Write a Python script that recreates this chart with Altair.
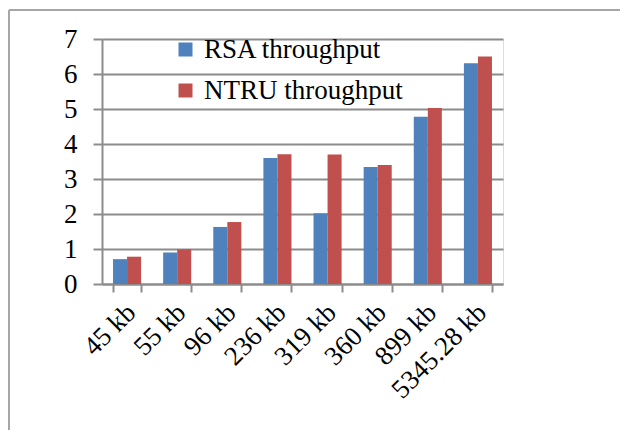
import altair as alt
import pandas as pd

categories = ["45 kb", "55 kb", "96 kb", "236 kb", "319 kb", "360 kb", "899 kb", "5345.28 kb"]
rsa = [0.71, 0.90, 1.63, 3.60, 2.02, 3.34, 4.78, 6.31]
ntru = [0.78, 0.99, 1.77, 3.71, 3.70, 3.40, 5.03, 6.50]
series = ["RSA throughput", "NTRU throughput"]
colors = ["#4F81BD", "#C0504D"]

rows = []
for c, r, n in zip(categories, rsa, ntru):
    rows.append({"cat": c, "series": series[0], "value": r})
    rows.append({"cat": c, "series": series[1], "value": n})
df = pd.DataFrame(rows)

FONT = "Liberation Serif"
W, H = 401, 245
PAD = {"left": 94, "top": 31, "right": 117, "bottom": 146}
GRAY = "#8c8c8c"

bars = alt.Chart(df).mark_bar().encode(
    x=alt.X("cat:N", sort=categories, title=None,
            scale=alt.Scale(paddingInner=0.44, paddingOuter=0.22),
            axis=alt.Axis(labelAngle=-45, labelAlign="right", labelBaseline="middle",
                          labelPadding=16, labelOffset=4, tickBand="extent", tickSize=8,
                          labelFontSize=27, labelFont=FONT, labelColor="black",
                          domainColor=GRAY, tickColor=GRAY,
                          domainWidth=2, tickWidth=2, labelOverlap=False)),
    xOffset=alt.XOffset("series:N", sort=series, scale=alt.Scale(paddingInner=0, paddingOuter=0)),
    y=alt.Y("value:Q", title=None,
            scale=alt.Scale(domain=[0, 7], nice=False),
            axis=alt.Axis(values=[0, 1, 2, 3, 4, 5, 6, 7], tickSize=9, labelPadding=16,
                          labelFontSize=27, labelFont=FONT, labelColor="black",
                          domainColor=GRAY, tickColor=GRAY, gridColor=GRAY,
                          gridWidth=2, domainWidth=2, tickWidth=2)),
    color=alt.Color("series:N", sort=series,
                    scale=alt.Scale(domain=series, range=colors),
                    legend=alt.Legend(title=None, orient="none", legendX=70, legendY=-3,
                                      symbolType="square", symbolSize=196, symbolStrokeWidth=0,
                                      labelFontSize=27, labelFont=FONT, labelColor="black",
                                      labelOffset=5, rowPadding=13, labelLimit=400)),
)

frame = pd.DataFrame({"a": [0]})
top_line = alt.Chart(frame).mark_rule(color="#a6a6a6", strokeWidth=2, clip=False).encode(
    x=alt.value(-93), x2=alt.value(W + PAD["right"]), y=alt.value(-29))
left_line = alt.Chart(frame).mark_rule(color="#a6a6a6", strokeWidth=2, clip=False).encode(
    x=alt.value(-93), y=alt.value(-29), y2=alt.value(H + PAD["bottom"]))

chart = alt.layer(bars, top_line, left_line).properties(
    width=W, height=H,
    autosize=alt.AutoSizeParams(type="none"),
    padding=PAD,
).configure_view(stroke=None).configure(background="white")

chart.save("out.html", embed_options={"renderer": "svg", "actions": False})
